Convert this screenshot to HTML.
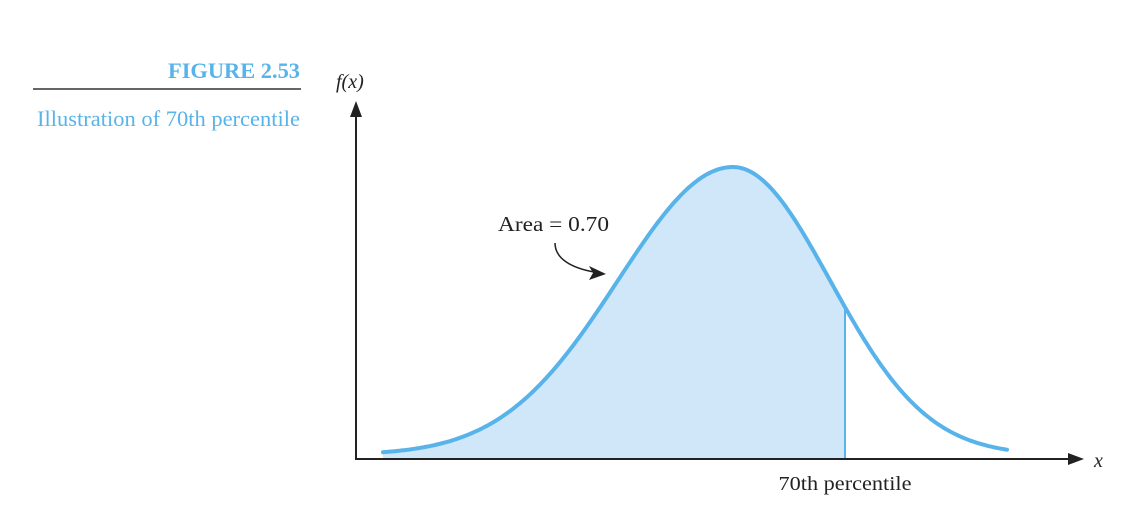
<!DOCTYPE html>
<html><head><meta charset="utf-8"><style>
html,body{margin:0;padding:0;background:#fff;width:1132px;height:508px;overflow:hidden}
svg{display:block}
</style></head><body>
<svg width="1132" height="508">
<text x="300" y="78" text-anchor="end" font-family="Liberation Serif, serif" font-weight="bold" font-size="22" fill="#58b3ea" textLength="132" lengthAdjust="spacingAndGlyphs">FIGURE 2.53</text>
<line x1="33" y1="89" x2="301" y2="89" stroke="#333" stroke-width="1.5"/>
<text x="300" y="126" text-anchor="end" font-family="Liberation Serif, serif" font-size="22" fill="#58b3ea" textLength="263" lengthAdjust="spacingAndGlyphs">Illustration of 70th percentile</text>
<g id="plot"></g>
<text x="336" y="88" font-family="Liberation Serif, serif" font-style="italic" font-size="20" fill="#222">f(x)</text>
<text x="1094" y="467" font-family="Liberation Serif, serif" font-style="italic" font-size="20" fill="#222">x</text>
<text x="845" y="490" text-anchor="middle" font-family="Liberation Serif, serif" font-size="20" fill="#222" textLength="133" lengthAdjust="spacingAndGlyphs">70th percentile</text>
<text x="498" y="231" font-family="Liberation Serif, serif" font-size="21" fill="#222" textLength="111" lengthAdjust="spacingAndGlyphs">Area = 0.70</text>
<path d="M555 243 C555 259 572 268 594 272" fill="none" stroke="#222" stroke-width="1.5"/>
<polygon points="606,274 589,266 593,273 589,280" fill="#222"/>
</svg>
<script>
const curveCenter = [733];
const curveSpread = [115, 97];   // left sd, right sd (pixels)
const peakHeight = [288];
const percentileX = [845];
const xRange = [383, 1008];
const ns='http://www.w3.org/2000/svg';
const g=document.getElementById('plot');
const base=455;
function yOf(x){const s=x<curveCenter[0]?curveSpread[0]:curveSpread[1];const z=(x-curveCenter[0])/s;return base-peakHeight[0]*Math.exp(-z*z/2);}
function mk(t,a){const e=document.createElementNS(ns,t);for(const k in a)e.setAttribute(k,a[k]);g.appendChild(e);return e;}
let d='',fill='M'+xRange[0]+' 459';
for(let x=xRange[0];x<=xRange[1];x+=2){d+=(d?'L':'M')+x+' '+yOf(x).toFixed(1);}
for(let x=xRange[0];x<=percentileX[0];x+=2){fill+='L'+x+' '+yOf(x).toFixed(1);}
fill+='L'+percentileX[0]+' '+yOf(percentileX[0]).toFixed(1)+'L'+percentileX[0]+' 459Z';
const f=mk('path',{d:fill,fill:'#cfe7f8'});


const pl=mk('line',{x1:percentileX[0],y1:yOf(percentileX[0]),x2:percentileX[0],y2:459,stroke:'#58b3ea','stroke-width':2});


const c=mk('path',{d:d,fill:'none',stroke:'#58b3ea','stroke-width':4,'stroke-linecap':'round'});


const ya=mk('line',{x1:356,y1:459,x2:356,y2:112,stroke:'#222','stroke-width':2});


const yh=mk('polygon',{points:'356,101 350,117 362,117',fill:'#222'});


const xa=mk('line',{x1:355,y1:459,x2:1072,y2:459,stroke:'#222','stroke-width':2});


const xh=mk('polygon',{points:'1084,459 1068,453 1068,465',fill:'#222'});


</script>
</body></html>
